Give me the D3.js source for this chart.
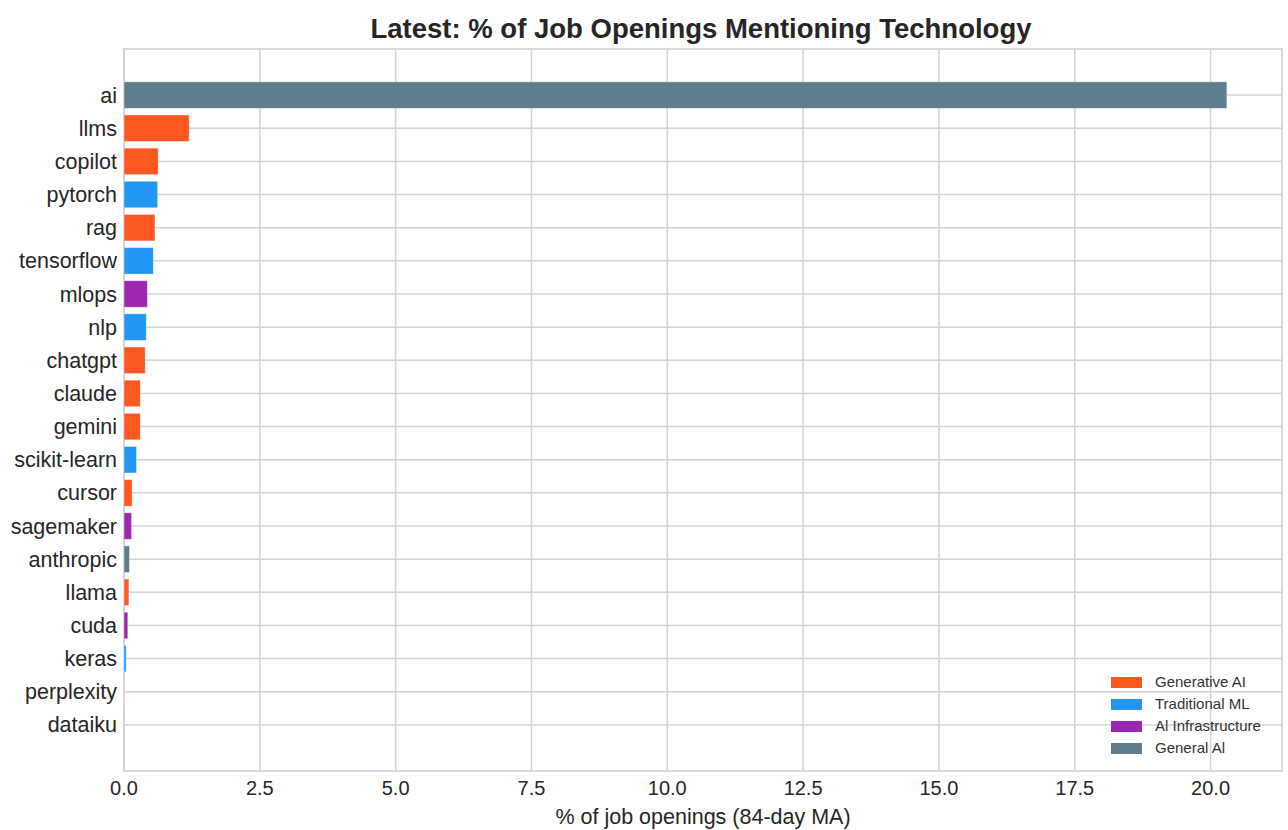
<!DOCTYPE html>
<html>
<head>
<meta charset="utf-8">
<script src="https://cdn.jsdelivr.net/npm/d3@7"></script>
<style>
  body { margin: 0; background: #fff; }
  text { font-family: "Liberation Sans", Arial, sans-serif; }
</style>
</head>
<body>
<svg id="chart" width="1288" height="830"></svg>
<script>
// values, top to bottom
const techs = ["ai", "llms", "copilot", "pytorch", "rag", "tensorflow", "mlops", "nlp", "chatgpt", "claude",
  "gemini", "scikit-learn", "cursor", "sagemaker", "anthropic", "llama", "cuda", "keras", "perplexity", "dataiku"]
const shares = [20.3, 1.2, 0.63, 0.62, 0.57, 0.54, 0.43, 0.41, 0.39, 0.30,
  0.30, 0.23, 0.15, 0.14, 0.10, 0.09, 0.07, 0.04, 0.005, 0.0]
const groups = ["General AI", "Generative AI", "Generative AI", "Traditional ML", "Generative AI", "Traditional ML",
  "AI Infrastructure", "Traditional ML", "Generative AI", "Generative AI", "Generative AI", "Traditional ML",
  "Generative AI", "AI Infrastructure", "General AI", "Generative AI", "AI Infrastructure", "Traditional ML",
  "Generative AI", "AI Infrastructure"]
const legendNames = ["Generative AI", "Traditional ML", "AI Infrastructure", "General AI"]
const legendLabels = ["Generative AI", "Traditional ML", "Al Infrastructure", "General Al"]
const groupColors = ["#FF5722", "#2196F3", "#9C27B0", "#607D8B"]
const xTicks = [0, 2.5, 5, 7.5, 10, 12.5, 15, 17.5, 20]

const svg = d3.select("#chart")
const plot = { left: 124, right: 1282, top: 49, bottom: 771 }

const color = d3.scaleOrdinal().domain(legendNames).range(groupColors)

// matplotlib style 5% margin past the longest bar
const x = d3.scaleLinear()
  .domain([0, d3.max(shares) * 1.05])
  .range([plot.left, plot.right])

// bar centres as indexes, height 0.8, plus 5% margin on the y range
const yPad = (techs.length - 1 + 0.8) * 0.05
const y = d3.scaleLinear()
  .domain([-0.4 - yPad, techs.length - 1 + 0.4 + yPad])
  .range([plot.top, plot.bottom])

const grid = svg.append("g")
grid.selectAll(".vgrid").data(xTicks).join("line")
  .attr("x1", d => x(d)).attr("x2", d => x(d))
  .attr("y1", plot.top).attr("y2", plot.bottom)
  .attr("stroke", "#d4d4d4").attr("stroke-width", 1.5)
grid.selectAll(".hgrid").data(techs).join("line")
  .attr("x1", plot.left).attr("x2", plot.right)
  .attr("y1", (d, i) => y(i)).attr("y2", (d, i) => y(i))
  .attr("stroke", "#d4d4d4").attr("stroke-width", 1.5)

// frame
svg.append("rect")
  .attr("x", plot.left).attr("y", plot.top)
  .attr("width", plot.right - plot.left).attr("height", plot.bottom - plot.top)
  .attr("fill", "none").attr("stroke", "#cfcfcf").attr("stroke-width", 1.5)

const barH = y(0.4) - y(-0.4)
svg.append("g").selectAll("rect").data(techs).join("rect")
  .attr("x", x(0))
  .attr("y", (d, i) => y(i) - barH / 2)
  .attr("width", (d, i) => x(shares[i]) - x(0))
  .attr("height", barH)
  .attr("fill", (d, i) => color(groups[i]))
  .attr("stroke", "#fff").attr("stroke-opacity", 0.5).attr("stroke-width", 0.8)

// y labels
svg.append("g").selectAll("text").data(techs).join("text")
  .attr("x", plot.left - 7)
  .attr("y", (d, i) => y(i))
  .attr("dy", "0.35em")
  .attr("text-anchor", "end")
  .attr("font-size", 21.5)
  .attr("fill", "#262626")
  .text(d => d)

// x ticks
svg.append("g").selectAll("text").data(xTicks).join("text")
  .attr("x", d => x(d))
  .attr("y", plot.bottom + 24)
  .attr("text-anchor", "middle")
  .attr("font-size", 20)
  .attr("fill", "#262626")
  .text(d => d3.format(".1f")(d))

svg.append("text")
  .attr("x", (plot.left + plot.right) / 2)
  .attr("y", 824)
  .attr("text-anchor", "middle")
  .attr("font-size", 21.5)
  .attr("fill", "#262626")
  .text("% of job openings (84-day MA)")

svg.append("text")
  .attr("x", 701)
  .attr("y", 38)
  .attr("text-anchor", "middle")
  .attr("font-size", 27.5)
  .attr("font-weight", "bold")
  .attr("fill", "#262626")
  .text("Latest: % of Job Openings Mentioning Technology")

// legend, no frame
const legend = svg.append("g").attr("transform", "translate(1111, 682)")
legendNames.forEach((name, i) => {
  const row = legend.append("g").attr("transform", `translate(0, ${i * 22})`)
  row.append("rect").attr("x", 0).attr("y", -5).attr("width", 31).attr("height", 11)
    .attr("fill", color(name))
  row.append("text").attr("x", 44).attr("y", 0).attr("dy", "0.35em")
    .attr("font-size", 15).attr("fill", "#333").text(legendLabels[i])
})
</script>
</body>
</html>
